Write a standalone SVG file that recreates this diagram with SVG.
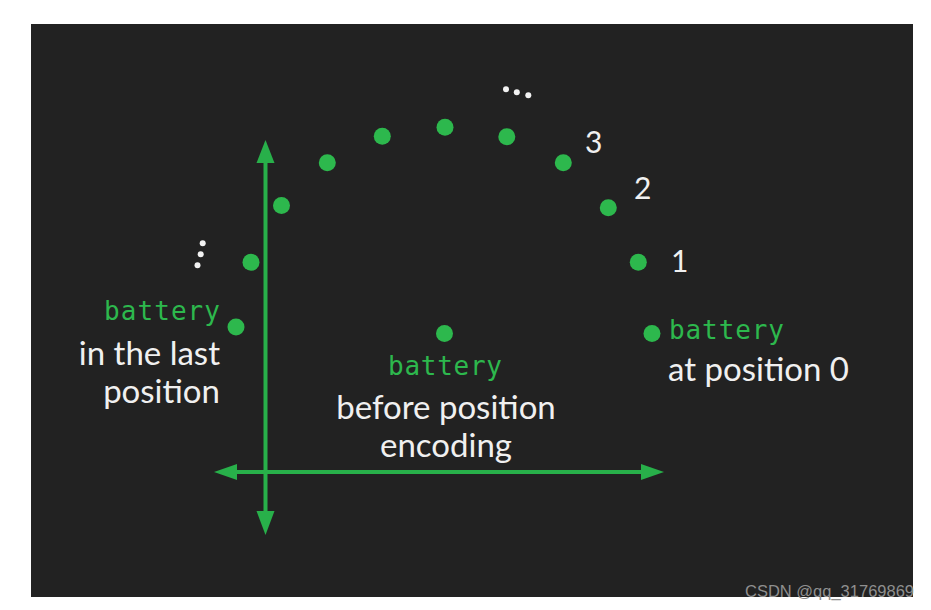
<svg xmlns="http://www.w3.org/2000/svg" width="931" height="610" viewBox="0 0 931 610">
<defs>
<style>
.dot{fill:#2db84d}
.wdot{fill:#f2f2f2}
.ax{stroke:#28b04a;stroke-width:4;fill:none}
.head{fill:#28b04a}
.mono{font-family:"DejaVu Sans Mono","Liberation Mono",monospace;font-size:26px;fill:#2db84d}
.lbl{font-family:Lato,"Open Sans",sans-serif;font-size:33px;fill:#f0f0f0}
.num{font-family:Lato,"Open Sans",sans-serif;font-size:30px;fill:#f0f0f0}
.wm{font-family:"Liberation Sans",Arial,sans-serif;font-size:16.5px;fill:#8f8f8f}
</style>
</defs>
<rect x="0" y="0" width="931" height="610" fill="#ffffff"/>
<rect x="31" y="24" width="882" height="573" fill="#222222"/>
<g id="connectors">
<line class="ax" x1="265.5" y1="160" x2="265.5" y2="514"/>
<polygon class="head" points="265.5,140 274.5,163 256.5,163"/>
<polygon class="head" points="265.5,535 274.5,511 256.5,511"/>
<line class="ax" x1="234" y1="472" x2="644" y2="472"/>
<polygon class="head" points="214,472 237,464 237,480"/>
<polygon class="head" points="664,472 641,464 641,480"/>
</g>
<g id="arc-dots">
<circle class="dot" cx="236" cy="327" r="8.5"/>
<circle class="dot" cx="251" cy="262.3" r="8.5"/>
<circle class="dot" cx="281.5" cy="205.5" r="8.5"/>
<circle class="dot" cx="327.3" cy="162.8" r="8.5"/>
<circle class="dot" cx="382.3" cy="136.3" r="8.5"/>
<circle class="dot" cx="445" cy="127.3" r="8.5"/>
<circle class="dot" cx="506.8" cy="136.7" r="8.5"/>
<circle class="dot" cx="563.3" cy="162.7" r="8.5"/>
<circle class="dot" cx="608.3" cy="207.7" r="8.5"/>
<circle class="dot" cx="638.3" cy="262.3" r="8.5"/>
</g>
<g id="ellipsis-top">
<circle class="wdot" cx="506" cy="89.3" r="3"/>
<circle class="wdot" cx="516.8" cy="92.3" r="3"/>
<circle class="wdot" cx="528.3" cy="95.3" r="3"/>
</g>
<g id="ellipsis-left">
<circle class="wdot" cx="202.7" cy="243.3" r="3"/>
<circle class="wdot" cx="200.7" cy="254.3" r="3"/>
<circle class="wdot" cx="197.5" cy="265.3" r="3"/>
</g>
<g id="numbers">
<text class="num" x="585" y="153">3</text>
<text class="num" x="634" y="199">2</text>
<text class="num" x="671" y="272">1</text>
</g>
<g id="node-last">
<text class="mono" x="220" y="320" text-anchor="end" textLength="116" lengthAdjust="spacing">battery</text>
<text class="lbl" x="220" y="365" text-anchor="end">in the last</text>
<text class="lbl" x="220" y="403" text-anchor="end">position</text>
</g>
<g id="node-center">
<circle class="dot" cx="444.5" cy="333.5" r="8.5"/>
<text class="mono" x="388" y="375" textLength="114" lengthAdjust="spacing">battery</text>
<text class="lbl" x="446" y="419" text-anchor="middle">before position</text>
<text class="lbl" x="446" y="457" text-anchor="middle">encoding</text>
</g>
<g id="node-zero">
<circle class="dot" cx="652" cy="333.5" r="8.5"/>
<text class="mono" x="669" y="339" textLength="115" lengthAdjust="spacing">battery</text>
<text class="lbl" x="668" y="381">at position 0</text>
</g>
<text class="wm" x="745" y="597">CSDN @qq_31769869</text>
</svg>
